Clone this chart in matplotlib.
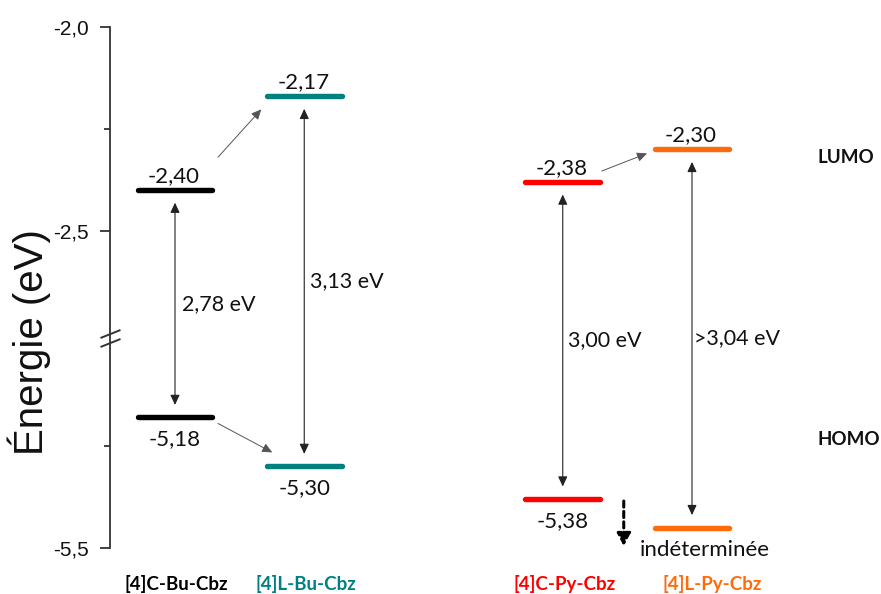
import numpy as np
import matplotlib
matplotlib.use("Agg")
import matplotlib.pyplot as plt
from matplotlib import transforms
from matplotlib.patches import ArrowStyle
from matplotlib.path import Path

# ---------------- data ----------------
compounds = ["[4]C-Bu-Cbz", "[4]L-Bu-Cbz", "[4]C-Py-Cbz", "[4]L-Py-Cbz"]
lumo = [-2.40, -2.17, -2.38, -2.30]
homo = [-5.18, -5.30, -5.38, -5.45]          # last one undetermined (placeholder level)
lumo_labels = ["-2,40", "-2,17", "-2,38", "-2,30"]
homo_labels = ["-5,18", "-5,30", "-5,38", "indéterminée"]
gap_labels = ["2,78 eV", "3,13 eV", "3,00 eV", ">3,04 eV"]
colors = ["#000000", "#008080", "#ff0000", "#ff6a0a"]
ytick_vals = [-2.0, -2.5, -5.5]
ytick_labels = ["-2,0", "-2,5", "-5,5"]
yminor_vals = [-2.25, -5.25]

# ---------------- layout ----------------
xpos = [0, 1, 3, 4]
PXU = 129.25                      # pixels per x unit
GAP_HI, GAP_LO = -2.762, -4.985   # broken part of the energy axis
SHIFT = GAP_HI - GAP_LO


def fwd(y):
    return np.interp(y, [-100, GAP_LO, GAP_HI, 100],
                     [-100 + SHIFT, GAP_HI - 1e-6, GAP_HI, 100])


def inv(d):
    return np.interp(d, [-100 + SHIFT, GAP_HI - 1e-6, GAP_HI, 100],
                     [-100, GAP_LO, GAP_HI, 100])


LABEL_FONT = "Lato"
AX_FONT = "Liberation Sans"
TXT = "#111111"

fig = plt.figure(figsize=(8.81, 5.94), dpi=100)
ax = fig.add_axes([110 / 881, 1 - 548 / 594, 771 / 881, 521 / 594])
ax.set_yscale("function", functions=(fwd, inv))
ax.set_ylim(-5.5, -2.0)
ax.set_xlim(-65 / PXU, (881 - 175) / PXU)

hw = (40 - 2.7) / PXU
bar_half = 40 / PXU


def off(dx, dy, base=None):
    return transforms.offset_copy(base if base is not None else ax.transData,
                                  x=dx, y=dy, units="dots")


# energy levels
for x, l, h, c in zip(xpos, lumo, homo, colors):
    for e in (l, h):
        ax.plot([x - hw, x + hw], [e, e], color=c, lw=3.9,
                solid_capstyle="round", zorder=3)

# level labels
for x, l, h, ll, hl in zip(xpos, lumo, homo, lumo_labels, homo_labels):
    ax.text(x, l, ll, transform=off(-1, 8), ha="center", va="baseline",
            fontsize=16, family=LABEL_FONT, color=TXT)
    dx = 13 if hl == "indéterminée" else 0
    ax.text(x, h, hl, transform=off(dx, -28), ha="center", va="baseline",
            fontsize=16, family=LABEL_FONT, color=TXT)

# vertical gap arrows and labels
vstyle = ArrowStyle("<|-|>", head_length=0.6, head_width=0.28)
gap_dx = [7, 6, 5, 2]
for x, l, h, g, gdx in zip(xpos, lumo, homo, gap_labels, gap_dx):
    ax.annotate("", xy=(x, h), xytext=(x, l),
                arrowprops=dict(arrowstyle=vstyle, mutation_scale=10, lw=0.8,
                                color="#222222", shrinkA=9, shrinkB=9))
    ymid = float(inv((fwd(l) + fwd(h)) / 2))
    ax.text(x, ymid, g, transform=off(gdx, 0), ha="left", va="center",
            fontsize=15.5, family=LABEL_FONT, color=TXT)

# diagonal arrows between related levels
dstyle = ArrowStyle("-|>", head_length=0.6, head_width=0.28)
pairs = [
    ((xpos[0] + bar_half, lumo[0]), (3, 33), (xpos[1] - bar_half, lumo[1]), (-3, -13)),
    ((xpos[0] + bar_half, homo[0]), (3, -6), (xpos[1] - bar_half, homo[1]), (8, 14)),
    ((xpos[2] + bar_half, lumo[2]), (-1, 11), (xpos[3] - bar_half, lumo[3]), (-5, -4)),
]
for start, so, end, eo in pairs:
    ax.annotate("", xy=end, xycoords=off(*eo), xytext=start, textcoords=off(*so),
                arrowprops=dict(arrowstyle=dstyle, mutation_scale=10, lw=0.7,
                                color="#555555", shrinkA=0, shrinkB=0))

# dashed arrow: HOMO below measurable range
ax.annotate("", xy=(xpos[2] + bar_half, homo[2]), xycoords=off(21, -47),
            xytext=(xpos[2] + bar_half, homo[2]), textcoords=off(21, -2),
            arrowprops=dict(arrowstyle=ArrowStyle("-|>", head_length=0.75, head_width=0.4),
                            mutation_scale=10, lw=2.2, ls=(0, (2.0, 1.4)),
                            color="black", shrinkA=0, shrinkB=0))

# compound names
bt = transforms.blended_transform_factory(ax.transData, ax.transAxes)
name_dx = [1, 2, 2, 20]
for x, n, c, ndx in zip(xpos, compounds, colors, name_dx):
    ax.text(x, -0.069, n, transform=off(ndx, 0, bt), ha="center", va="center",
            fontsize=13.5, fontweight="bold", family=LABEL_FONT, color=c,
            clip_on=False)

# LUMO / HOMO tags
ax.text(0.918, 0.7486, "LUMO", transform=ax.transAxes, ha="left", va="center",
        fontsize=13.5, fontweight="bold", family=LABEL_FONT, color=TXT)
ax.text(0.918, 0.2073, "HOMO", transform=ax.transAxes, ha="left", va="center",
        fontsize=13.5, fontweight="bold", family=LABEL_FONT, color=TXT)

# axes styling
for s in ("top", "right", "bottom"):
    ax.spines[s].set_visible(False)
ax.spines["left"].set_color("#333333")
ax.spines["left"].set_linewidth(1.3)
ax.set_xticks([])
ax.set_yticks(ytick_vals)
ax.set_yticklabels(ytick_labels, family=AX_FONT, fontsize=15, color=TXT)
ax.set_yticks(yminor_vals, minor=True)
ax.yaxis.set_minor_formatter(matplotlib.ticker.NullFormatter())
ax.tick_params(axis="y", which="major", length=7, width=1.3, color="#333333", pad=8)
ax.tick_params(axis="y", which="minor", length=4, width=1.3, color="#333333")

# axis break marks
brk = Path([(-10, -8.5), (10, -0.5), (-10, 0.5), (10, 8.5)],
           [Path.MOVETO, Path.LINETO, Path.MOVETO, Path.LINETO])
by = transforms.blended_transform_factory(ax.transAxes, ax.transData)
ax.plot([0], [GAP_HI], marker=brk, markersize=14.4, mew=1.4, color="#333333",
        linestyle="none", transform=by, clip_on=False)

fig.text(29 / 881, 1 - 342 / 594, "Énergie (eV)", rotation=90, ha="center",
         va="center", fontsize=29, family=AX_FONT, color=TXT)

fig.savefig("out.png", dpi=100)
